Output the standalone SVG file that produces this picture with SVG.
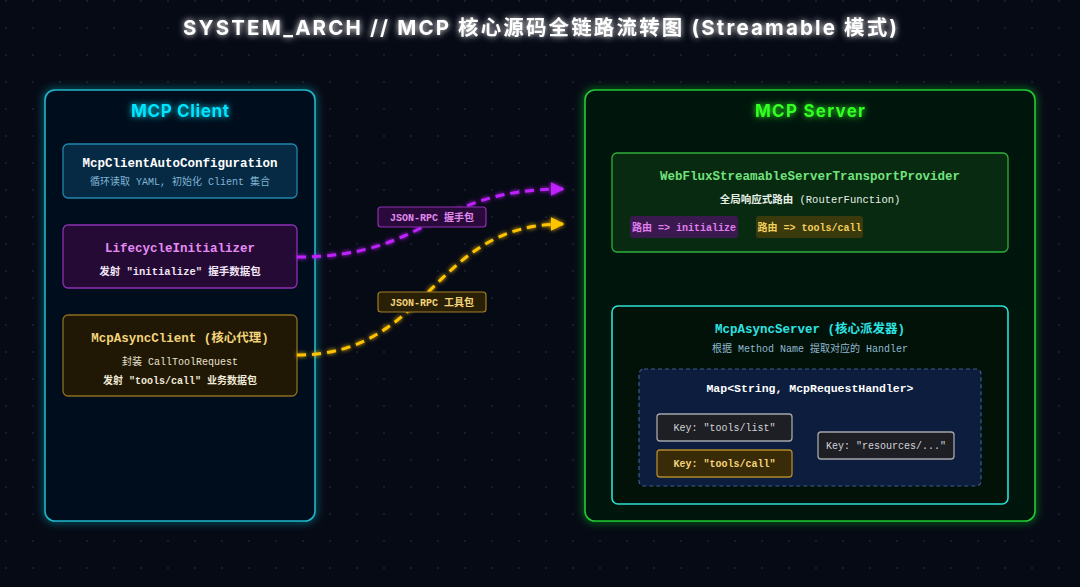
<svg xmlns="http://www.w3.org/2000/svg" width="1080" height="587" viewBox="0 0 1080 587">
<defs>
  <pattern id="dots" x="0" y="0" width="27" height="27" patternUnits="userSpaceOnUse">
    <rect x="5" y="0" width="2" height="2" fill="#161e2e"/>
  </pattern>
  <filter id="glow" x="-20%" y="-50%" width="140%" height="200%">
    <feGaussianBlur stdDeviation="3" result="b"/>
    <feMerge><feMergeNode in="b"/><feMergeNode in="SourceGraphic"/></feMerge>
  </filter>
  <filter id="softglow" x="-10%" y="-10%" width="120%" height="120%">
    <feGaussianBlur stdDeviation="4" result="b"/>
    <feMerge><feMergeNode in="b"/><feMergeNode in="SourceGraphic"/></feMerge>
  </filter>
  <filter id="lineglow" x="-20%" y="-50%" width="140%" height="200%">
    <feGaussianBlur stdDeviation="2" result="b"/>
    <feMerge><feMergeNode in="b"/><feMergeNode in="SourceGraphic"/></feMerge>
  </filter>
  <marker id="arrP" viewBox="0 0 10 10" refX="9" refY="5" markerWidth="4.5" markerHeight="4.5" orient="auto" markerUnits="strokeWidth">
    <path d="M0,0 L10,5 L0,10 z" fill="#c020ff"/>
  </marker>
  <marker id="arrY" viewBox="0 0 10 10" refX="9" refY="5" markerWidth="4.5" markerHeight="4.5" orient="auto" markerUnits="strokeWidth">
    <path d="M0,0 L10,5 L0,10 z" fill="#ffc400"/>
  </marker>
  <style>
    .mono { font-family: "Liberation Mono", "DejaVu Sans Mono", "Noto Sans CJK SC", monospace; }
    .cjk { font-family: "Liberation Mono", "Noto Sans CJK SC", monospace; }
    .title { font-family: "Inter", "Noto Sans CJK SC", sans-serif; font-weight: 700; }
    .b { font-weight: 700; }
    .node { stroke-width: 1.3; }
    .conn { fill: none; stroke-width: 3; stroke-dasharray: 9 6; stroke-linecap: butt; }
  </style>
</defs>

<rect width="1080" height="587" fill="#060a15"/>
<rect width="1080" height="587" fill="url(#dots)"/>

<text x="183" y="35" class="title" font-size="20.5" fill="#ffffff" filter="url(#glow)" textLength="714" lengthAdjust="spacing">SYSTEM_ARCH // MCP 核心源码全链路流转图 (Streamable 模式)</text>

<!-- Client panel -->
<g id="client-panel">
  <rect x="45" y="90" width="270" height="431" rx="10" fill="#03111f" stroke="#1fb4c8" stroke-width="1.6" filter="url(#softglow)"/>
  <text x="131" y="117" class="title" font-size="17" fill="#00e5ff" filter="url(#glow)" textLength="98" lengthAdjust="spacing">MCP Client</text>
</g>

<g id="node-autoconfig">
  <rect x="63" y="144" width="234" height="54" rx="5" fill="#072a44" stroke="#1f86ad" class="node"/>
  <text x="180" y="167" text-anchor="middle" class="mono b" font-size="12.5" fill="#ffffff">McpClientAutoConfiguration</text>
  <text x="180" y="185" text-anchor="middle" class="cjk" font-size="10" fill="#7fb4d4">循环读取 YAML, 初始化 Client 集合</text>
</g>

<g id="node-lifecycle">
  <rect x="63" y="225" width="234" height="63" rx="5" fill="#240a34" stroke="#8e2fb4" class="node"/>
  <text x="180" y="252" text-anchor="middle" class="mono b" font-size="12.5" fill="#e58cf4">LifecycleInitializer</text>
  <text x="180" y="275" text-anchor="middle" class="cjk b" font-size="10.5" fill="#f2e6f6">发射 "initialize" 握手数据包</text>
</g>

<g id="node-asyncclient">
  <rect x="63" y="315" width="234" height="81" rx="5" fill="#201805" stroke="#8c6d1c" class="node"/>
  <text x="180" y="342" text-anchor="middle" class="cjk b" font-size="12.5" fill="#f3d47a">McpAsyncClient (核心代理)</text>
  <text x="180" y="365" text-anchor="middle" class="cjk" font-size="10" fill="#e8e2cf">封装 CallToolRequest</text>
  <text x="180" y="384" text-anchor="middle" class="cjk b" font-size="10" fill="#f0ead8">发射 "tools/call" 业务数据包</text>
</g>

<!-- Server panel -->
<g id="server-panel">
  <rect x="585" y="90" width="450" height="431" rx="10" fill="#02120a" stroke="#22c832" stroke-width="1.6" filter="url(#softglow)"/>
  <text x="755" y="117" class="title" font-size="17" fill="#33ff22" filter="url(#glow)" textLength="110" lengthAdjust="spacing">MCP Server</text>
</g>

<g id="node-webflux">
  <rect x="612" y="153" width="396" height="99" rx="5" fill="#082a10" stroke="#2fb03a" class="node"/>
  <text x="810" y="180" text-anchor="middle" class="mono b" font-size="12.5" fill="#72e27e">WebFluxStreamableServerTransportProvider</text>
  <text x="810" y="203" text-anchor="middle" class="cjk" font-size="10.5" fill="#e6efe6"><tspan class="b">全局响应式路由</tspan> (RouterFunction)</text>
  <rect x="630" y="216" width="108" height="22" rx="3" fill="#3a1a4e"/>
  <text x="684" y="231" text-anchor="middle" class="cjk b" font-size="10" fill="#e07ef0">路由 =&gt; initialize</text>
  <rect x="756" y="216" width="107" height="22" rx="3" fill="#3a3a0c"/>
  <text x="809.5" y="231" text-anchor="middle" class="cjk b" font-size="10" fill="#f3cf5a">路由 =&gt; tools/call</text>
</g>

<g id="node-asyncserver">
  <rect x="612" y="306" width="396" height="198" rx="6" fill="#021208" stroke="#2de0d4" stroke-width="1.6"/>
  <text x="810" y="333" text-anchor="middle" class="cjk b" font-size="12.5" fill="#2ee3e3">McpAsyncServer (核心派发器)</text>
  <text x="810" y="352" text-anchor="middle" class="cjk" font-size="10" fill="#8fb8d0">根据 Method Name 提取对应的 Handler</text>
</g>

<g id="node-map">
  <rect x="639" y="369" width="342" height="117" rx="5" fill="#0c1d3e" stroke="#3d5c92" stroke-width="1.2" stroke-dasharray="4 3"/>
  <text x="810" y="392" text-anchor="middle" class="mono b" font-size="11.5" fill="#ffffff">Map&lt;String, McpRequestHandler&gt;</text>
</g>

<g id="key-tools-list">
  <rect x="657" y="414" width="135" height="27" rx="3" fill="#1e1f24" stroke="#a4a6ac" stroke-width="1.3"/>
  <text x="724.5" y="431" text-anchor="middle" class="mono" font-size="10" fill="#d4d4d8">Key: "tools/list"</text>
</g>
<g id="key-tools-call">
  <rect x="657" y="450" width="135" height="27" rx="3" fill="#3a2b08" stroke="#b08a2a" stroke-width="1.3"/>
  <text x="724.5" y="467" text-anchor="middle" class="mono b" font-size="10" fill="#f3d47a">Key: "tools/call"</text>
</g>
<g id="key-resources">
  <rect x="818" y="432" width="136" height="27" rx="3" fill="#1e1f24" stroke="#a4a6ac" stroke-width="1.3"/>
  <text x="886" y="449" text-anchor="middle" class="mono" font-size="10" fill="#d4d4d8">Key: "resources/..."</text>
</g>

<!-- Connectors -->
<g id="connectors">
  <path d="M297,257 C431,257 431,189 563,189" class="conn" stroke="#c020ff" marker-end="url(#arrP)" filter="url(#lineglow)"/>
  <path d="M297,355 C431,355 431,224 563,224" class="conn" stroke="#ffc400" marker-end="url(#arrY)" filter="url(#lineglow)"/>
  <g id="label-handshake">
    <rect x="378" y="207" width="108" height="20" rx="3" fill="#2a0a3a" stroke="#8e2fb4" stroke-width="1.2"/>
    <text x="432" y="221" text-anchor="middle" class="cjk b" font-size="10" fill="#e08af0">JSON-RPC 握手包</text>
  </g>
  <g id="label-tool">
    <rect x="378" y="292" width="108" height="20" rx="3" fill="#2a2006" stroke="#a07e22" stroke-width="1.2"/>
    <text x="432" y="306" text-anchor="middle" class="cjk b" font-size="10" fill="#f3d47a">JSON-RPC 工具包</text>
  </g>
</g>
</svg>
